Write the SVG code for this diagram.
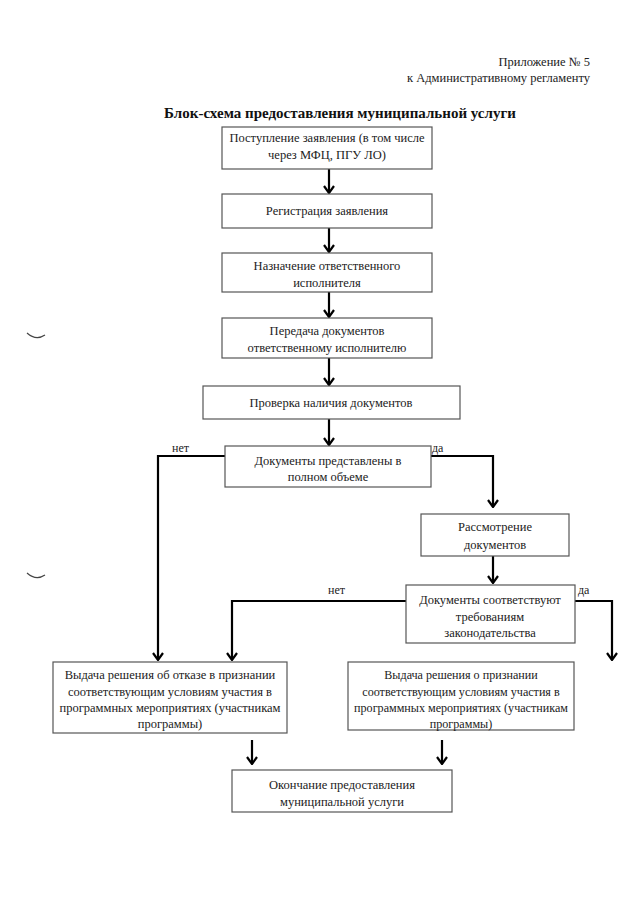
<svg xmlns="http://www.w3.org/2000/svg" width="640" height="901" viewBox="0 0 640 901">
<defs>
<marker id="arr" viewBox="0 0 12 12" refX="11" refY="6" markerWidth="12" markerHeight="12" markerUnits="userSpaceOnUse" orient="auto">
<path d="M4,1 L11,6 L4,11" fill="none" stroke="#000" stroke-width="2.2"/>
</marker>
</defs>
<style>
.bx{fill:#fff;stroke:#555;stroke-width:1.2}
.t{font-family:"Liberation Serif","Times New Roman",serif;font-size:12.5px;fill:#222;text-anchor:middle}
.s{font-size:12.1px}
.lbl{font-family:"Liberation Serif","Times New Roman",serif;font-size:12px;fill:#222}
.ca{fill:none;stroke:#000;stroke-width:2.2;marker-end:url(#arr)}
</style>
<rect width="640" height="901" fill="#fff"/>
<g id="header" font-family="'Liberation Serif','Times New Roman',serif">
<text class="lbl" x="590" y="66" text-anchor="end" style="font-size:12.5px">Приложение № 5</text>
<text class="lbl" x="590" y="82" text-anchor="end" style="font-size:12.5px">к Административному регламенту</text>
<text x="340" y="118" text-anchor="middle" font-size="15" font-weight="bold" fill="#111">Блок-схема предоставления муниципальной услуги</text>
</g>
<g id="marks" fill="none" stroke="#444" stroke-width="1.2">
<path d="M27,333 Q36,341 45,335"/>
<path d="M27,573 Q36,581 45,575"/>
</g>
<g id="connectors" font-family="'Liberation Serif','Times New Roman',serif">
<line class="ca" x1="329" y1="169" x2="329" y2="193"/>
<line class="ca" x1="329" y1="228" x2="329" y2="252"/>
<line class="ca" x1="329" y1="292" x2="329" y2="317"/>
<line class="ca" x1="329" y1="358" x2="329" y2="385"/>
<line class="ca" x1="329" y1="419" x2="329" y2="445"/>
<polyline class="ca" points="225,456 158,456 158,660"/>
<polyline class="ca" points="431,456 493,456 493,507"/>
<line class="ca" x1="493" y1="556" x2="493" y2="583"/>
<polyline class="ca" points="406,601 232,601 232,660"/>
<polyline class="ca" points="575,601 612,601 612,660"/>
<line class="ca" x1="252" y1="740" x2="252" y2="764"/>
<line class="ca" x1="442" y1="740" x2="442" y2="764"/>
<text class="lbl" x="172" y="452">нет</text>
<text class="lbl" x="432" y="452">да</text>
<text class="lbl" x="328" y="594">нет</text>
<text class="lbl" x="578" y="594">да</text>
</g>
<g id="nodes" font-family="'Liberation Serif','Times New Roman',serif">
<g id="n1"><rect class="bx" x="222" y="127" width="210" height="42"/>
<text class="t" x="327" y="142">Поступление заявления (в том числе</text>
<text class="t" x="327" y="159">через МФЦ, ПГУ ЛО)</text></g>
<g id="n2"><rect class="bx" x="222" y="194" width="210" height="34"/>
<text class="t" x="327" y="215">Регистрация заявления</text></g>
<g id="n3"><rect class="bx" x="222" y="253" width="210" height="39"/>
<text class="t" x="327" y="270">Назначение ответственного</text>
<text class="t" x="327" y="287">исполнителя</text></g>
<g id="n4"><rect class="bx" x="222" y="318" width="210" height="40"/>
<text class="t" x="327" y="335">Передача документов</text>
<text class="t" x="327" y="352">ответственному исполнителю</text></g>
<g id="n5"><rect class="bx" x="203" y="386" width="257" height="33"/>
<text class="t" x="331" y="407">Проверка наличия документов</text></g>
<g id="n6"><rect class="bx" x="225" y="446" width="206" height="41"/>
<text class="t" x="328" y="465">Документы представлены в</text>
<text class="t" x="328" y="481">полном объеме</text></g>
<g id="n7"><rect class="bx" x="421" y="514" width="148" height="42"/>
<text class="t" x="495" y="531">Рассмотрение</text>
<text class="t" x="495" y="549">документов</text></g>
<g id="n8"><rect class="bx" x="406" y="585" width="169" height="58"/>
<text class="t" x="490" y="604">Документы соответствуют</text>
<text class="t" x="490" y="621">требованиям</text>
<text class="t" x="490" y="637">законодательства</text></g>
<g id="n9"><rect class="bx" x="53" y="662" width="234" height="71"/>
<text class="t" x="170" y="679">Выдача решения об отказе в признании</text>
<text class="t" x="170" y="696">соответствующим условиям участия в</text>
<text class="t" x="170" y="712">программных мероприятиях (участникам</text>
<text class="t" x="170" y="728">программы)</text></g>
<g id="n10"><rect class="bx" x="348" y="662" width="226" height="68"/>
<text class="t s" x="461" y="679">Выдача решения о признании</text>
<text class="t s" x="461" y="696">соответствующим условиям участия в</text>
<text class="t s" x="461" y="712">программных мероприятиях (участникам</text>
<text class="t s" x="461" y="728">программы)</text></g>
<g id="n11"><rect class="bx" x="232" y="770" width="220" height="42"/>
<text class="t" x="342" y="789">Окончание предоставления</text>
<text class="t" x="342" y="806">муниципальной услуги</text></g>
</g>
</svg>
